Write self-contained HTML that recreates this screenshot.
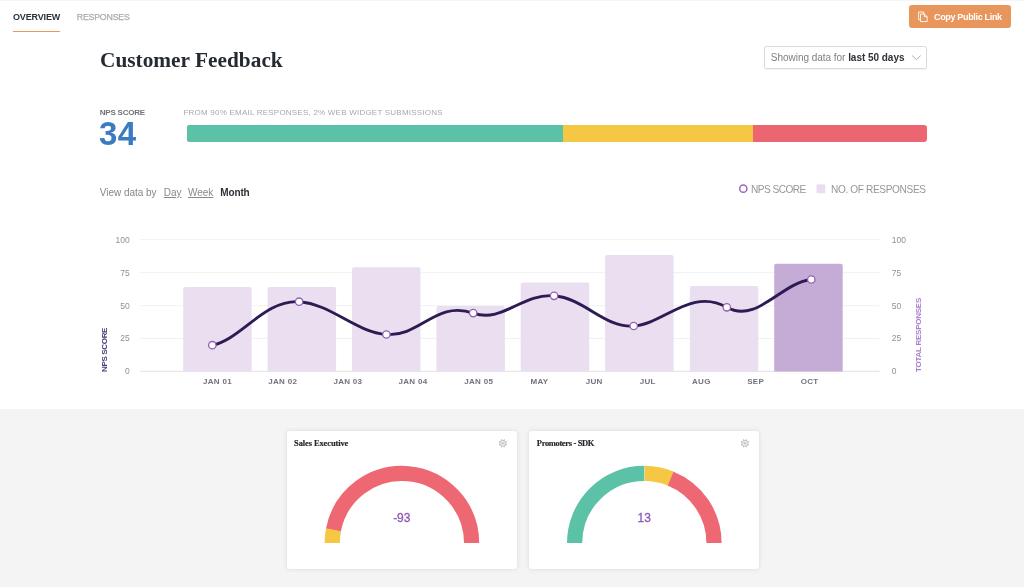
<!DOCTYPE html>
<html>
<head>
<meta charset="utf-8">
<title>Customer Feedback</title>
<style>
*{box-sizing:border-box;margin:0;padding:0}
html,body{width:1024px;height:587px;overflow:hidden;background:#fff;font-family:"Liberation Sans",sans-serif;}
body{position:relative}
#wrap{position:absolute;left:0;top:0;width:1024px;height:587px;will-change:transform;transform:translateZ(0)}
.abs{position:absolute;white-space:nowrap;line-height:1}
#topline{left:0;top:0;width:1024px;height:1px;background:#f5f5f5}
#tab1{left:13px;top:12.6px;font-size:9px;font-weight:bold;letter-spacing:-0.15px;color:#2e3138}
#tab1u{left:13px;top:31px;width:47px;height:1px;background:#e9995f}
#tab2{left:76.8px;top:12.6px;font-size:8.8px;letter-spacing:-0.22px;color:#abadb1;-webkit-text-stroke:0.25px #abadb1}
#btn{left:908.9px;top:5.2px;width:102.3px;height:22.9px;background:#e8965c;border-radius:3px}
#btntxt{left:934px;top:12.6px;font-size:9px;font-weight:bold;color:#fff;letter-spacing:-0.33px}
#h1{left:100px;top:50.3px;font-family:"Liberation Serif",serif;font-weight:bold;font-size:21.3px;color:#262a31;letter-spacing:0.02px}
#dd{left:764px;top:46px;width:163px;height:22.5px;border:1px solid #dadada;border-radius:2.5px;background:#fff;box-shadow:0 1px 1.5px rgba(0,0,0,0.05)}
#ddtxt{left:770.8px;top:53.3px;font-size:10px;color:#7c7f85;letter-spacing:-0.03px}
#ddtxt b{color:#2e3138}
#npsl{left:99.7px;top:108.6px;font-size:8px;font-weight:bold;color:#6f7278;letter-spacing:-0.2px}
#nps{left:99px;top:117.3px;font-size:33px;font-weight:bold;color:#3b7cc0;letter-spacing:0.5px}
#from{left:183.5px;top:108.6px;font-size:8px;color:#a6a8ac;letter-spacing:0.22px}
#bar{left:187px;top:125px;width:740px;height:17px;border-radius:3px;overflow:hidden;background:#ec6672}
#bar i{position:absolute;top:0;height:17px}
#vd{left:99.8px;top:188.1px;font-size:10px;color:#85888d;letter-spacing:-0.03px}
#vd span{position:absolute;top:0}
#vd u{text-decoration:underline;text-underline-offset:1px;text-decoration-thickness:0.8px}
#vd b{color:#2e3138}
.lg{font-size:10.1px;color:#95979b;letter-spacing:-0.05px;top:184.5px}
#gray{left:0;top:409px;width:1024px;height:178px;background:#f4f4f4}
.card{top:430.5px;width:230.5px;height:138.5px;background:#fff;border-radius:3px;box-shadow:0 0 5px rgba(0,0,0,0.11)}
.ct{top:439px;font-family:"Liberation Serif",serif;font-weight:bold;font-size:8.5px;color:#23262c;-webkit-text-stroke:0.15px #23262c}
.val{font-size:12px;color:#8d5ab6;top:511.5px;text-align:center;width:60px;-webkit-text-stroke:0.3px #8d5ab6}
svg{position:absolute;left:0;top:0}
</style>
</head>
<body>
<div id="wrap">
<div class="abs" id="topline"></div>
<div class="abs" id="tab1">OVERVIEW</div>
<div class="abs" id="tab1u"></div>
<div class="abs" id="tab2">RESPONSES</div>
<div class="abs" id="btn"></div>
<div class="abs" id="btntxt">Copy Public Link</div>
<div class="abs" id="h1">Customer Feedback</div>
<div class="abs" id="dd"></div>
<div class="abs" id="ddtxt">Showing data for <b>last 50 days</b></div>
<div class="abs" id="npsl">NPS SCORE</div>
<div class="abs" id="nps">34</div>
<div class="abs" id="from">FROM 90% EMAIL RESPONSES, 2% WEB WIDGET SUBMISSIONS</div>
<div class="abs" id="bar"><i style="left:0;width:376px;background:#5bc2a8"></i><i style="left:376px;width:190px;background:#f5c745"></i></div>
<div class="abs" id="vd">View data by<span style="left:64px"><u>Day</u></span><span style="left:88.2px"><u>Week</u></span><span style="left:120.5px;letter-spacing:-0.15px"><b>Month</b></span></div>
<div class="abs lg" style="left:750.9px;letter-spacing:-0.5px">NPS SCORE</div>
<div class="abs lg" style="left:831px;letter-spacing:-0.36px">NO. OF RESPONSES</div>
<div class="abs" id="gray"></div>
<div class="abs card" style="left:286.5px"></div>
<div class="abs card" style="left:528.8px"></div>
<div class="abs ct" style="left:294.1px;letter-spacing:-0.12px">Sales Executive</div>
<div class="abs ct" style="left:536.8px;letter-spacing:-0.36px">Promoters - SDK</div>
<div class="abs val" style="left:371.8px">-93</div>
<div class="abs val" style="left:614.2px">13</div>

<svg width="1024" height="587" viewBox="0 0 1024 587">
  <!-- button icon -->
  <g fill="none" stroke="#fff" stroke-opacity="0.92" stroke-width="0.95" stroke-linejoin="round">
    <path d="M920.5 14h3.9l2.8 2.8v4.8h-6.7z"/>
    <path d="M924.4 14v2.8h2.8"/>
    <path d="M920.5 19.7h-1.9v-7.7h5.2v2"/>
  </g>
  <!-- dropdown chevron -->
  <path d="M912.1 55.6l4.3 4.1 4.3-4.1" fill="none" stroke="#a2a4a8" stroke-width="0.9"/>
  <!-- legend -->
  <circle cx="743.3" cy="188.7" r="3.6" fill="#fff" stroke="#9a66c2" stroke-width="1.5"/>
  <rect x="816.5" y="184.4" width="8.8" height="8.8" fill="#e8def0"/>
  <!-- grid -->
  <g stroke="#f1f1f1" stroke-width="1">
    <path d="M140 239.7H879.5M140 272.7H879.5M140 305.7H879.5M140 338.5H879.5"/>
  </g>
  <path d="M140 371.3H879.5" stroke="#e2e2e2" stroke-width="1"/>
  <!-- bars -->
  <g fill="#e9dff1">
    <path d="M183.2 371.5V289.1a2 2 0 0 1 2-2h64.5a2 2 0 0 1 2 2V371.5z"/>
    <path d="M267.6 371.5V289.1a2 2 0 0 1 2-2h64.5a2 2 0 0 1 2 2V371.5z"/>
    <path d="M352 371.5V269.3a2 2 0 0 1 2-2h64.5a2 2 0 0 1 2 2V371.5z"/>
    <path d="M436.4 371.5V307.9a2 2 0 0 1 2-2h64.5a2 2 0 0 1 2 2V371.5z"/>
    <path d="M520.7 371.5V284.4a2 2 0 0 1 2-2h64.5a2 2 0 0 1 2 2V371.5z"/>
    <path d="M605.1 371.5V257a2 2 0 0 1 2-2h64.5a2 2 0 0 1 2 2V371.5z"/>
    <path d="M689.8 371.5V288.1a2 2 0 0 1 2-2h64.5a2 2 0 0 1 2 2V371.5z"/>
  </g>
  <path d="M774.2 371.5V265.7a2 2 0 0 1 2-2h64.5a2 2 0 0 1 2 2V371.5z" fill="#c5acd7"/>
  <!-- line -->
  <path id="curve" d="M212.3 345.2C240.3 339.9 264.9 299.3 299.1 301.7C331.0 303.9 355.6 332.3 386.4 334.5C420.1 336.9 436.3 300.1 473.2 313.1C502.5 323.4 521.8 293.1 554.1 295.8C584.6 298.4 604.4 328.1 633.7 326.0C664.0 323.8 691.3 287.3 726.8 307.3C756.7 324.2 781.0 282.8 811.3 279.5" fill="none" stroke="#2e1b54" stroke-width="2.9" stroke-linecap="round" stroke-linejoin="round"/>
  <g id="dots" fill="#fff" stroke="#9560b6" stroke-width="1.3"><circle cx="212.3" cy="345.2" r="3.7"/><circle cx="299.1" cy="301.7" r="3.7"/><circle cx="386.4" cy="334.5" r="3.7"/><circle cx="473.2" cy="313.1" r="3.7"/><circle cx="554.1" cy="295.8" r="3.7"/><circle cx="633.7" cy="326.0" r="3.7"/><circle cx="726.8" cy="307.3" r="3.7"/><circle cx="811.3" cy="279.5" r="3.7"/></g>
  <!-- axis text -->
  <g font-family="Liberation Sans, sans-serif" font-size="8.5" fill="#8f9196" text-anchor="end">
    <text x="129.7" y="243">100</text><text x="129.7" y="276.1">75</text><text x="129.7" y="309.1">50</text><text x="129.7" y="341.4">25</text><text x="129.7" y="373.7">0</text>
  </g>
  <g font-family="Liberation Sans, sans-serif" font-size="8.5" fill="#8f9196">
    <text x="891.7" y="243">100</text><text x="891.7" y="276.1">75</text><text x="891.7" y="309.1">50</text><text x="891.7" y="341.4">25</text><text x="891.7" y="373.7">0</text>
  </g>
  <g font-family="Liberation Sans, sans-serif" font-size="8" font-weight="bold" fill="#70737a" text-anchor="middle" letter-spacing="0.3">
    <text x="217.5" y="384.2">JAN 01</text><text x="282.7" y="384.2">JAN 02</text><text x="347.9" y="384.2">JAN 03</text><text x="413" y="384.2">JAN 04</text><text x="478.7" y="384.2">JAN 05</text>
    <text x="539.4" y="384.2">MAY</text><text x="594.2" y="384.2">JUN</text><text x="647.8" y="384.2">JUL</text><text x="701.4" y="384.2">AUG</text><text x="755.7" y="384.2">SEP</text><text x="809.6" y="384.2">OCT</text>
  </g>
  <text transform="translate(106.8 372) rotate(-90)" font-family="Liberation Sans, sans-serif" font-size="8" font-weight="bold" fill="#4a3a7c" letter-spacing="-0.34">NPS SCORE</text>
  <text transform="translate(920.5 372) rotate(-90)" font-family="Liberation Sans, sans-serif" font-size="8" font-weight="bold" fill="#a87fd0" letter-spacing="-0.25">TOTAL RESPONSES</text>

  <!-- gauges -->
  <g fill="none" stroke-width="15.2">
    <path d="M333.41 530.16A69.7 69.7 0 0 1 471.60 543.10" stroke="#ee6873"/>
    <path d="M332.20 543.10A69.7 69.7 0 0 1 333.48 529.80" stroke="#f5c745"/>
    <path d="M670.30 478.43A69.7 69.7 0 0 1 714.00 543.10" stroke="#ee6873"/>
    <path d="M644.66 473.40A69.7 69.7 0 0 1 670.64 478.57" stroke="#f5c745"/>
    <path d="M574.60 543.10A69.7 69.7 0 0 1 644.30 473.40" stroke="#5bc2a8"/>
  </g>
  <!-- gear icons -->
  <g id="gears"><circle cx="502.9" cy="443.3" r="3" stroke="#b3b6bd" stroke-width="0.8" fill="none"/><circle cx="502.9" cy="443.3" r="1.7" stroke="#c4c7cc" stroke-width="0.6" fill="none"/><circle cx="502.9" cy="443.3" r="0.75" fill="#8d9097" stroke="none"/><circle cx="506.23" cy="444.68" r="0.65" fill="#b3b6bd" stroke="none"/><circle cx="504.28" cy="446.63" r="0.65" fill="#b3b6bd" stroke="none"/><circle cx="501.52" cy="446.63" r="0.65" fill="#b3b6bd" stroke="none"/><circle cx="499.57" cy="444.68" r="0.65" fill="#b3b6bd" stroke="none"/><circle cx="499.57" cy="441.92" r="0.65" fill="#b3b6bd" stroke="none"/><circle cx="501.52" cy="439.97" r="0.65" fill="#b3b6bd" stroke="none"/><circle cx="504.28" cy="439.97" r="0.65" fill="#b3b6bd" stroke="none"/><circle cx="506.23" cy="441.92" r="0.65" fill="#b3b6bd" stroke="none"/><circle cx="744.9" cy="443.3" r="3" stroke="#b3b6bd" stroke-width="0.8" fill="none"/><circle cx="744.9" cy="443.3" r="1.7" stroke="#c4c7cc" stroke-width="0.6" fill="none"/><circle cx="744.9" cy="443.3" r="0.75" fill="#8d9097" stroke="none"/><circle cx="748.23" cy="444.68" r="0.65" fill="#b3b6bd" stroke="none"/><circle cx="746.28" cy="446.63" r="0.65" fill="#b3b6bd" stroke="none"/><circle cx="743.52" cy="446.63" r="0.65" fill="#b3b6bd" stroke="none"/><circle cx="741.57" cy="444.68" r="0.65" fill="#b3b6bd" stroke="none"/><circle cx="741.57" cy="441.92" r="0.65" fill="#b3b6bd" stroke="none"/><circle cx="743.52" cy="439.97" r="0.65" fill="#b3b6bd" stroke="none"/><circle cx="746.28" cy="439.97" r="0.65" fill="#b3b6bd" stroke="none"/><circle cx="748.23" cy="441.92" r="0.65" fill="#b3b6bd" stroke="none"/></g>
</svg>
</div>
</body>
</html>
